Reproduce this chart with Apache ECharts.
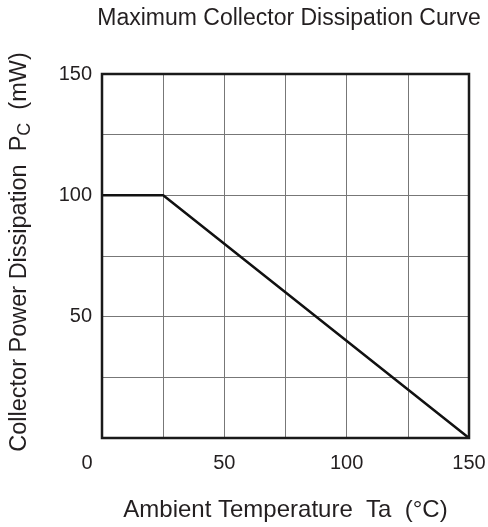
<!DOCTYPE html>
<html><head><meta charset="utf-8">
<script src="https://cdn.jsdelivr.net/npm/echarts@6/dist/echarts.min.js"></script>
<style>html,body{margin:0;padding:0;background:#fff}#c{width:488px;height:527px}</style>
</head><body><div id="c"></div>
<script>
var titleText = 'Maximum Collector Dissipation Curve';
var xName = 'Ambient Temperature  Ta  (°C)';
var temperature = [0, 25, 150];
var power = [100, 100, 0];
var yTickLabels = [50, 100, 150];
var xTickLabels = [0, 50, 100, 150];

var chart = echarts.init(document.getElementById('c'), null, {renderer: 'canvas'});
var font = 'Liberation Sans, Arial, sans-serif';
chart.setOption({
  animation: false,
  title: {text: titleText, left: 284, textAlign: 'center', top: 2,
    textStyle: {fontFamily: font, fontSize: 23, fontWeight: 'normal', color: '#231f20'}},
  grid: {left: 102, top: 74, right: 19, bottom: 89, containLabel: false, outerBoundsMode: 'none'},
  xAxis: {type: 'value', min: 0, max: 150, interval: 25,
    name: xName, nameLocation: 'middle', nameGap: 60,
    nameTextStyle: {fontFamily: font, fontSize: 24, color: '#231f20'},
    axisLine: {show: false}, axisTick: {show: false},
    splitLine: {show: true, lineStyle: {color: '#777', width: 1}},
    axisLabel: {margin: 15, fontFamily: font, fontSize: 20, color: '#231f20',
      formatter: function (v) {
        if (xTickLabels.indexOf(v) < 0) return '';
        return v === 0 ? '{z|0}' : String(v);
      },
      rich: {z: {fontFamily: font, fontSize: 20, color: '#231f20', padding: [0, 30, 0, 0]}}}},
  yAxis: {type: 'value', min: 0, max: 150, interval: 25,
    name: '{a|Collector Power Dissipation  P}{s|C}{a|  (mW)}', nameLocation: 'middle', nameGap: 68,
    nameTextStyle: {fontFamily: font, fontSize: 23.5, color: '#231f20', padding: [0, 0, 0, 8],
      rich: {a: {fontFamily: font, fontSize: 23.5, color: '#231f20', lineHeight: 28, verticalAlign: 'middle'},
             s: {fontFamily: font, fontSize: 18, color: '#231f20', lineHeight: 28, verticalAlign: 'bottom', padding: [6, 0, 0, 0]}}},
    axisLine: {show: false}, axisTick: {show: false},
    splitLine: {show: true, lineStyle: {color: '#777', width: 1}},
    axisLabel: {margin: 10, fontFamily: font, fontSize: 20, color: '#231f20',
      formatter: function (v) { return yTickLabels.indexOf(v) >= 0 ? String(v) : ''; }}},
  series: [{type: 'line', data: temperature.map(function (t, i) { return [t, power[i]]; }),
    symbol: 'none', lineStyle: {color: '#111', width: 2.5}, z: 3}],
  graphic: []
});
var p0 = chart.convertToPixel({gridIndex: 0}, [0, 0]);
var p1 = chart.convertToPixel({gridIndex: 0}, [150, 150]);
chart.setOption({graphic: [{type: 'rect', shape: {x: p0[0], y: p1[1], width: p1[0] - p0[0], height: p0[1] - p1[1]},
  style: {fill: 'none', stroke: '#1a1a1a', lineWidth: 2.5}, z: 10}]});
</script></body></html>
